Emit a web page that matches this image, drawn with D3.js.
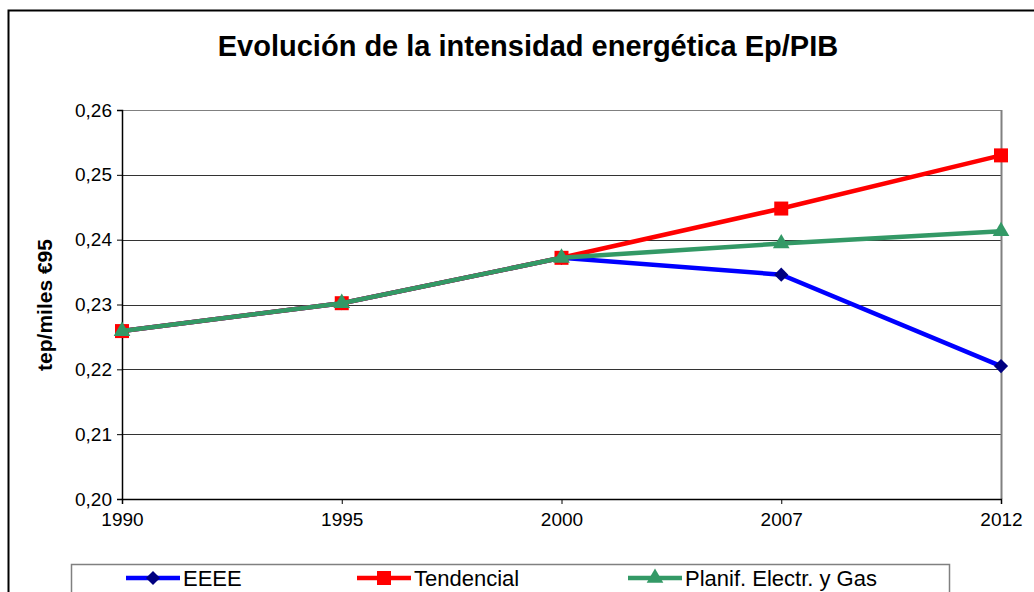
<!DOCTYPE html>
<html>
<head>
<meta charset="utf-8">
<script src="https://cdn.jsdelivr.net/npm/d3@7"></script>
<style>
  body { margin: 0; background: #fff; }
  svg { font-family: "Liberation Sans", Arial, sans-serif; }
</style>
</head>
<body>
<script>
// data
const years = ["1990", "1995", "2000", "2007", "2012"];
const eeee = [0.2259, 0.2302, 0.2372, 0.2346, 0.2205];
const tendencial = [0.2259, 0.2302, 0.2372, 0.2448, 0.2530];
const planif = [0.2259, 0.2302, 0.2372, 0.2394, 0.2413];
const yTicks = [0.20, 0.21, 0.22, 0.23, 0.24, 0.25, 0.26];

const diamond = {draw(ctx, size) {
  const r = Math.sqrt(size / 2);
  ctx.moveTo(0, -r); ctx.lineTo(r, 0); ctx.lineTo(0, r); ctx.lineTo(-r, 0); ctx.closePath();
}};

const series = [
  {name: "EEEE", values: eeee, color: "#0000ff", marker: "#000080", shape: diamond, size: 100},
  {name: "Tendencial", values: tendencial, color: "#ff0000", marker: "#ff0000", shape: d3.symbolSquare, size: 196},
  {name: "Planif. Electr. y Gas", values: planif, color: "#339966", marker: "#339966", shape: d3.symbolTriangle, size: 120}
];

const W = 1034, H = 592;
const margin = {top: 110, left: 122, right: 33, bottom: 93};
const width = W - margin.left - margin.right,
      height = H - margin.top - margin.bottom;

const svg = d3.select("body").append("svg")
  .attr("width", W).attr("height", H);

// outer chart border
svg.append("path")
  .attr("d", "M8.5,592 V10.5 H1034")
  .attr("fill", "none").attr("stroke", "#000").attr("stroke-width", 2);

svg.append("text")
  .attr("x", 528).attr("y", 56)
  .attr("text-anchor", "middle")
  .style("font-size", "29px").attr("font-weight", "bold")
  .text("Evolución de la intensidad energética Ep/PIB");

const g = svg.append("g")
  .attr("transform", `translate(${margin.left},${margin.top})`);

const x = d3.scalePoint().domain(years).range([0, width]);
const y = d3.scaleLinear().domain([0.20, 0.26]).range([height, 0]);

// gridlines
g.selectAll(".grid").data(yTicks.slice(1))
  .enter().append("line")
    .attr("x1", 0).attr("x2", width)
    .attr("y1", d => Math.round(y(d)) + 0.5).attr("y2", d => Math.round(y(d)) + 0.5)
    .attr("stroke", (d, i) => i === yTicks.length - 2 ? "#808080" : "#333")
    .attr("stroke-width", 1);

// right border of plot area
g.append("line")
  .attr("x1", width + 0.5).attr("x2", width + 0.5)
  .attr("y1", 0).attr("y2", height)
  .attr("stroke", "#808080").attr("stroke-width", 2);

// axes
const fmt = d => d3.format(".2f")(d).replace(".", ",");
const yAxis = g.append("g")
  .call(d3.axisLeft(y).tickValues(yTicks).tickFormat(fmt).tickSize(5).tickPadding(5));
const xAxis = g.append("g")
  .attr("transform", `translate(0,${height})`)
  .call(d3.axisBottom(x).tickSize(5).tickPadding(9));
[xAxis, yAxis].forEach(a => {
  a.attr("font-size", null).attr("font-family", null);
  a.select(".domain").attr("stroke", "#000").attr("stroke-width", 1.5);
  a.selectAll(".tick line").attr("stroke", "#000");
  a.selectAll("text").style("font-size", "19px").attr("fill", "#000");
});

svg.append("text")
  .attr("transform", "translate(52,305) rotate(-90)")
  .attr("text-anchor", "middle")
  .style("font-size", "21px").attr("font-weight", "bold")
  .text("tep/miles €95");

// lines and markers
const line = d3.line().x((d, i) => x(years[i])).y(d => y(d));
series.forEach(s => {
  g.append("path")
    .datum(s.values)
    .attr("d", line)
    .attr("fill", "none")
    .attr("stroke", s.color)
    .attr("stroke-width", 4.5);
  g.selectAll(null).data(s.values).enter().append("path")
    .attr("transform", (d, i) => `translate(${x(years[i])},${y(d)})`)
    .attr("d", d3.symbol().type(s.shape).size(s.size))
    .attr("fill", s.marker);
});

// legend
const leg = svg.append("g");
leg.append("rect")
  .attr("x", 71.5).attr("y", 564.5).attr("width", 878).attr("height", 40)
  .attr("fill", "#fff").attr("stroke", "#808080").attr("stroke-width", 1.5);
const legX = [126, 357, 628];
series.forEach((s, i) => {
  const lg = leg.append("g").attr("transform", `translate(${legX[i]},578)`);
  lg.append("line").attr("x1", 0).attr("x2", 54).attr("y1", 0).attr("y2", 0)
    .attr("stroke", s.color).attr("stroke-width", 4.5);
  lg.append("path").attr("transform", "translate(27,0)")
    .attr("d", d3.symbol().type(s.shape).size(s.size))
    .attr("fill", s.marker);
  lg.append("text").attr("x", 57).attr("y", 8)
    .style("font-size", "22px").text(s.name);
});
</script>
</body>
</html>
